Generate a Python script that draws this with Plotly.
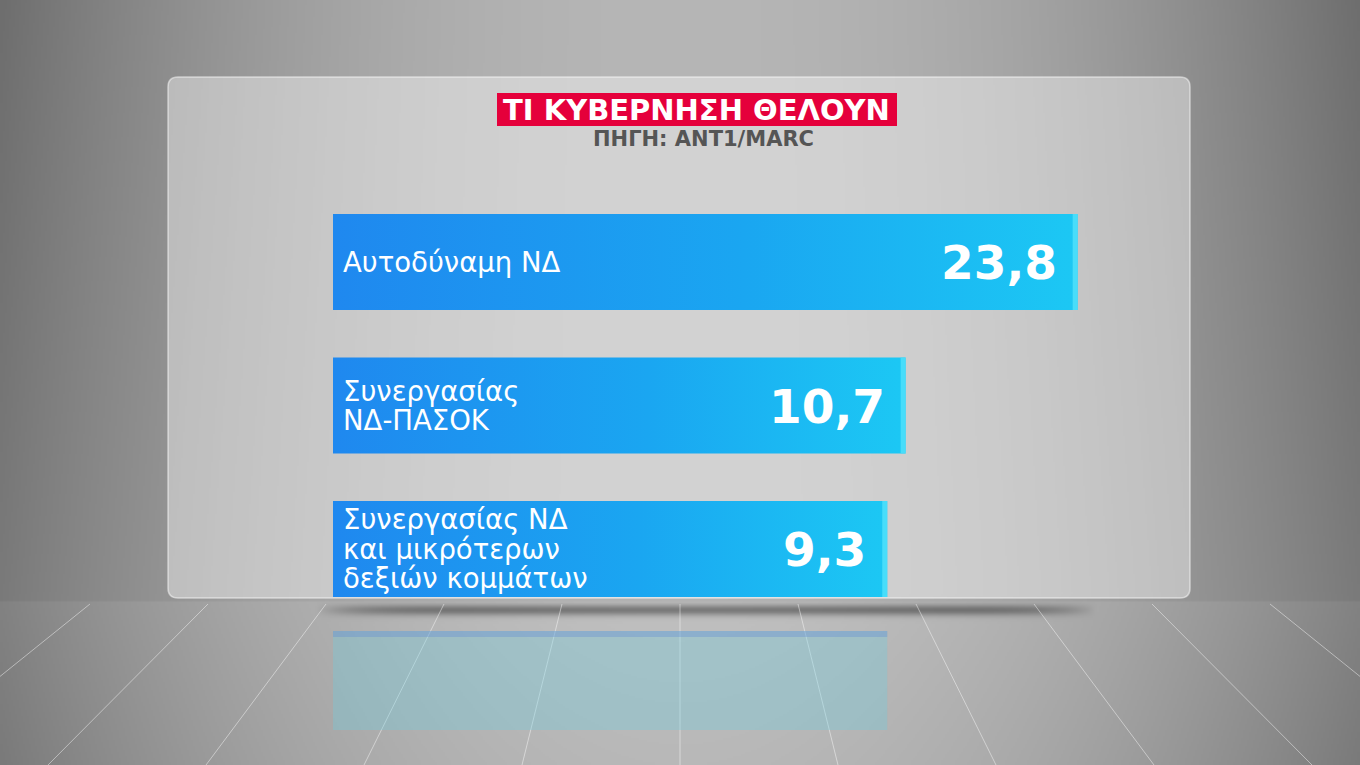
import base64, struct, zlib
import numpy as np
import plotly.graph_objects as go

# ---------------- data ----------------
LABELS = [["Αυτοδύναμη ΝΔ"],
          ["Συνεργασίας", "ΝΔ-ΠΑΣΟΚ"],
          ["Συνεργασίας ΝΔ", "και μικρότερων", "δεξιών κομμάτων"]]
VALUES = [23.8, 10.7, 9.3]
TITLE = "ΤΙ ΚΥΒΕΡΝΗΣΗ ΘΕΛΟΥΝ"
SOURCE = "ΠΗΓΗ: ANT1/MARC"

# ---------------- layout constants ----------------
W, H = 1360, 765
X_RANGE = [-32.9, 25.5]           # bars start from the left end of the axis
X_DOMAIN = [333 / W, 1100 / W]
Y_DOMAIN = [0.18856, 0.75131]
BAR_HALF = 0.3345
PX_PER_UNIT = (X_DOMAIN[1] - X_DOMAIN[0]) * W / (X_RANGE[1] - X_RANGE[0])
BASE = X_RANGE[0]


def px(x, y):
    return x / W, 1 - y / H


# ---------------- background image ----------------
def png_uri(arr):
    h, w, _ = arr.shape
    raw = b"".join(b"\x00" + arr[r].tobytes() for r in range(h))

    def chunk(t, d):
        return struct.pack(">I", len(d)) + t + d + struct.pack(">I", zlib.crc32(t + d) & 0xffffffff)

    png = (b"\x89PNG\r\n\x1a\n" + chunk(b"IHDR", struct.pack(">IIBBBBB", w, h, 8, 2, 0, 0, 0))
           + chunk(b"IDAT", zlib.compress(raw, 9)) + chunk(b"IEND", b""))
    return "data:image/png;base64," + base64.b64encode(png).decode()


bw, bh = 680, 383
yy, xx = np.mgrid[0:bh, 0:bw].astype(float)
X = xx * W / bw
Y = yy * H / bh
dx = (X - 680) / 680
wall = 182 - 60 * dx ** 2 - 12 * dx ** 2 * (1 - Y / 600)
floor = 192 - 62 * dx ** 2 - 8 * (Y - 600) / 165
# soft shadow under the panel, tapered at both ends
sx = np.clip(1 - ((X - 705) / 390) ** 8, 0, 1)
shadow = 70 * sx * np.exp(-((Y - 609) / 5.5) ** 2)
v = np.where(Y < 601, wall, floor) - shadow
v = np.clip(v, 0, 255).astype(np.uint8)
bg = np.stack([v, v, v], axis=-1)
BG_URI = png_uri(bg)

fig = go.Figure()

# ---------------- bars (gradient polygons through the axes) ----------------
for i, val in enumerate(VALUES):
    fig.add_trace(go.Scatter(
        x=[BASE, val, val, BASE, BASE],
        y=[i - BAR_HALF, i - BAR_HALF, i + BAR_HALF, i + BAR_HALF, i - BAR_HALF],
        mode="lines", line=dict(width=0), fill="toself",
        fillgradient=dict(type="horizontal",
                          colorscale=[[0, "#1f88ef"], [0.55, "#1aa6f1"], [1, "#1cc8f4"]]),
        hoverinfo="skip", showlegend=False))
    edge = 5 / PX_PER_UNIT
    fig.add_trace(go.Scatter(
        x=[val - edge, val, val, val - edge, val - edge],
        y=[i - BAR_HALF, i - BAR_HALF, i + BAR_HALF, i + BAR_HALF, i - BAR_HALF],
        mode="lines", line=dict(width=0), fill="toself", fillcolor="rgba(80,225,250,0.85)",
        hoverinfo="skip", showlegend=False))

shapes = []
annotations = []

# panel
x0, y0, x1, y1, r = 168, 77, 1190, 598, 10
pts = [px(x0 + r, y0), px(x1 - r, y0), px(x1, y0), px(x1, y0 + r), px(x1, y1 - r), px(x1, y1),
       px(x1 - r, y1), px(x0 + r, y1), px(x0, y1), px(x0, y1 - r), px(x0, y0 + r), px(x0, y0)]
path = "M {0[0]},{0[1]} L {1[0]},{1[1]} Q {2[0]},{2[1]} {3[0]},{3[1]} L {4[0]},{4[1]} Q {5[0]},{5[1]} {6[0]},{6[1]} " \
       "L {7[0]},{7[1]} Q {8[0]},{8[1]} {9[0]},{9[1]} L {10[0]},{10[1]} Q {11[0]},{11[1]} {0[0]},{0[1]} Z".format(*pts)
shapes.append(dict(type="path", path=path, xref="paper", yref="paper", layer="below",
                   fillcolor="rgba(255,255,255,0.40)", line=dict(color="rgba(255,255,255,0.5)", width=1.5)))

# perspective floor lines
for k in range(-6, 7):
    xa = 680 + k * 158 * (604 - 129) / 636
    xb = 680 + k * 158 * (765 - 129) / 636
    a, b = px(xa, 604), px(xb, 765)
    shapes.append(dict(type="line", xref="paper", yref="paper", x0=a[0], y0=a[1], x1=b[0], y1=b[1],
                       layer="below", line=dict(color="rgba(255,255,255,0.45)", width=1)))

# reflection of the last bar
ra, rb = px(0, 631), px(0, 730)
shapes.append(dict(type="rect", xref="x", yref="paper", x0=BASE, x1=VALUES[-1], y0=ra[1], y1=rb[1],
                   layer="below", fillcolor="rgba(110,205,225,0.33)", line=dict(width=0)))
rc = px(0, 637)
shapes.append(dict(type="rect", xref="x", yref="paper", x0=BASE, x1=VALUES[-1], y0=ra[1], y1=rc[1],
                   layer="below", fillcolor="rgba(90,130,215,0.30)", line=dict(width=0)))

# title box
a, b = px(497, 93), px(897, 126)
shapes.append(dict(type="rect", xref="paper", yref="paper", x0=a[0], y0=a[1], x1=b[0], y1=b[1],
                   layer="below", fillcolor="#e5003b", line=dict(width=0)))

t = px(697, 110)
annotations.append(dict(text=TITLE, xref="paper", yref="paper", x=t[0], y=t[1], showarrow=False,
                        xanchor="center", yanchor="middle",
                        font=dict(family="DejaVu Sans", size=29, color="white", weight="bold")))
s = px(703, 139)
annotations.append(dict(text=SOURCE, xref="paper", yref="paper", x=s[0], y=s[1], showarrow=False,
                        xanchor="center", yanchor="middle",
                        font=dict(family="DejaVu Sans", size=21, color="#555555", weight="bold")))

for i, (lines, val) in enumerate(zip(LABELS, VALUES)):
    n = len(lines)
    for j, line in enumerate(lines):
        annotations.append(dict(text=line, x=BASE, y=i, xref="x", yref="y", showarrow=False,
                                xanchor="left", yanchor="middle", xshift=8,
                                yshift=-(j - (n - 1) / 2) * 29.5,
                                font=dict(family="DejaVu Sans", size=27.5, color="white")))
    annotations.append(dict(text=f"{val:.1f}".replace(".", ","), x=val, y=i, xref="x", yref="y",
                            showarrow=False, xanchor="right", yanchor="middle", xshift=-19, yshift=-1,
                            font=dict(family="DejaVu Sans", size=47, color="white", weight="bold")))

fig.update_layout(
    width=W, height=H, margin=dict(l=0, r=0, t=0, b=0),
    paper_bgcolor="#a0a0a0", plot_bgcolor="rgba(0,0,0,0)",
    xaxis=dict(range=X_RANGE, domain=X_DOMAIN, visible=False, fixedrange=True),
    yaxis=dict(range=[2.5, -0.5], domain=Y_DOMAIN, visible=False, fixedrange=True),
    images=[dict(source=BG_URI, xref="paper", yref="paper", x=0, y=1, sizex=1, sizey=1,
                 sizing="stretch", layer="below", xanchor="left", yanchor="top")],
    shapes=shapes, annotations=annotations, showlegend=False,
)

fig.write_html("out.html", config={"displayModeBar": False},
               post_script="document.body.style.margin='0';document.body.style.overflow='hidden';")
